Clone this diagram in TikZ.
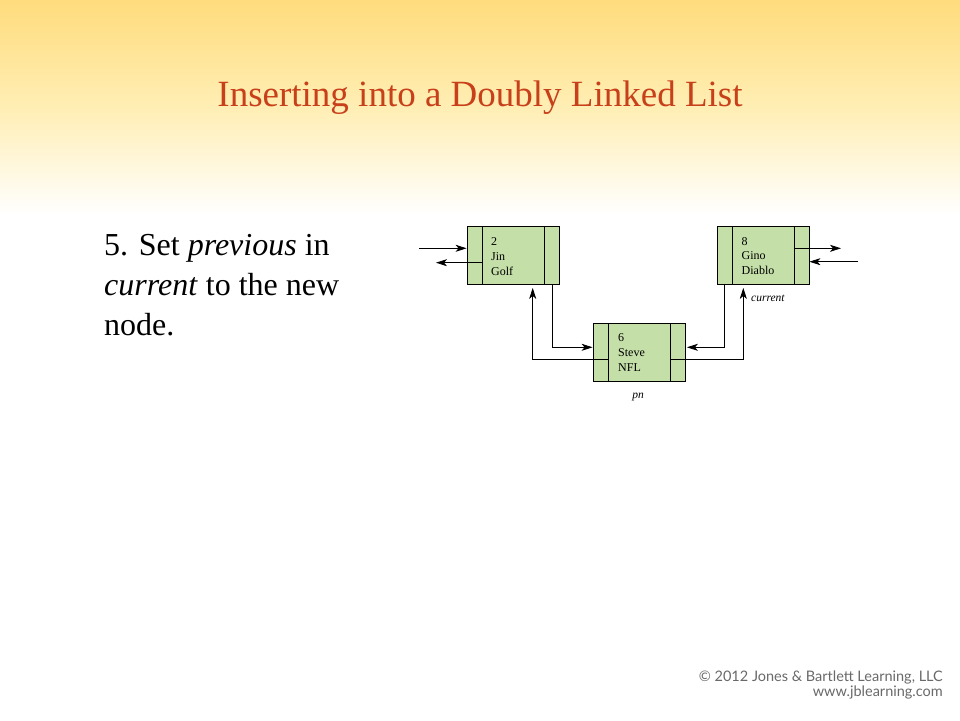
\documentclass[tikz,border=0pt]{standalone}
\usepackage{fontspec}
\setmainfont{Liberation Serif}
\newfontfamily\cpfont{Lato}
\usetikzlibrary{arrows.meta}
\definecolor{titlered}{RGB}{200,64,26}
\definecolor{topyellow}{RGB}{255,220,125}
\definecolor{midyellow}{RGB}{255,238,180}
\definecolor{cellgreen}{RGB}{197,223,168}
\definecolor{cpgray}{RGB}{105,105,105}
\begin{document}
\begin{tikzpicture}[x=1pt,y=-1pt,
  listnode/.style={draw, fill=cellgreen, minimum width=92pt, minimum height=58pt, inner sep=0pt, line width=0.8pt},
  divider/.style={line width=0.8pt},
  link/.style={line width=0.8pt, -{Stealth[length=11pt,width=7pt,inset=3pt]}},
  celltext/.style={font=\fontsize{12}{14.7}\selectfont, align=left, anchor=north west, inner sep=0pt},
  lbl/.style={font=\fontsize{11.5}{13}\selectfont\itshape, inner sep=0pt},
  body/.style={font=\fontsize{32}{40}\selectfont, anchor=base west, inner sep=0pt},
  cp/.style={font=\cpfont\fontsize{14.5}{16}\selectfont, text=cpgray, anchor=base east, inner sep=0pt}]
\useasboundingbox (0,0) rectangle (960,720);
\fill[white] (0,0) rectangle (960,720);
\shade[top color=topyellow, bottom color=white, middle color=midyellow] (0,0) rectangle (960,215);

\node[font=\fontsize{37}{40}\selectfont, text=titlered, anchor=base, inner sep=0pt] (title) at (480,106) {Inserting into a Doubly Linked List};

\node[body] (b1) at (104,255) {5. Set \textit{previous} in};
\node[body] (b2) at (104,295) {\textit{current} to the new};
\node[body] (b3) at (104,335) {node.};

% list nodes
\node[listnode] (n1) at (513,255.5) {};
\node[listnode] (n2) at (763,255.5) {};
\node[listnode] (n3) at (639,352.5) {};
\foreach \n in {n1,n2,n3}{
  \draw[divider] ([xshift=15.5pt]\n.north west) -- ([xshift=15.5pt]\n.south west);
  \draw[divider] ([xshift=-15.5pt]\n.north east) -- ([xshift=-15.5pt]\n.south east);
}
\node[celltext] (t1) at (491,237.5) {2\\Jin\\Golf};
\node[celltext] (t2) at (741.5,237) {8\\Gino\\Diablo};
\node[celltext] (t3) at (618,333.5) {6\\Steve\\NFL};

\node[lbl, anchor=west] (lblcur) at (751,298) {current};
\node[lbl] (lblpn) at (638,397.5) {pn};

% outer links
\coordinate (inL) at (419,248.3);
\coordinate (outL) at (436,262.7);
\coordinate (outR) at (841,248.3);
\coordinate (inR) at (858,261.7);
\draw[link] (inL) -- ([yshift=7.2pt]n1.west);
\draw[link] ([xshift=15.5pt,yshift=-7.2pt]n1.west) -- (outL);
\draw[link] ([xshift=-15.5pt,yshift=7.2pt]n2.east) -- (outR);
\draw[link] (inR) -- ([yshift=-6.2pt]n2.east);

% links between nodes
\draw[link] ([xshift=39.7pt]n1.south) |- ([yshift=5.2pt]n3.west);
\draw[link, shorten >=3pt] ([xshift=15.5pt,yshift=-6.5pt]n3.west) -| ([xshift=19.7pt]n1.south);
\draw[link, shorten >=1.5pt] ([xshift=-39pt]n2.south) |- ([yshift=5.2pt]n3.east);
\draw[link, shorten >=3pt] ([xshift=-15.5pt,yshift=-6.5pt]n3.east) -| ([xshift=-19.7pt]n2.south);

\node[cp] (cp1) at (943,681) {© 2012 Jones \& Bartlett Learning, LLC};
\node[cp] (cp2) at (943,696) {www.jblearning.com};
\end{tikzpicture}
\end{document}
